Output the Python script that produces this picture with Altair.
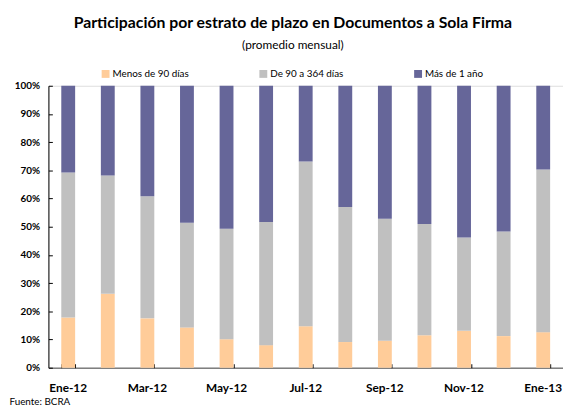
import altair as alt
import pandas as pd

months = ["Ene-12", "Feb-12", "Mar-12", "Abr-12", "May-12", "Jun-12", "Jul-12",
          "Ago-12", "Sep-12", "Oct-12", "Nov-12", "Dic-12", "Ene-13"]
series = ["Menos de 90 días", "De 90 a 364 días", "Más de 1 año"]
menos_90 = [17.8, 26.2, 17.5, 14.3, 10.1, 8.0, 14.7, 9.1, 9.6, 11.5, 13.1, 11.2, 12.6]
de_90_364 = [51.4, 42.0, 43.3, 37.1, 39.2, 43.7, 58.4, 47.9, 43.2, 39.5, 33.1, 37.1, 57.7]
mas_1_anio = [30.8, 31.8, 39.2, 48.6, 50.7, 48.3, 26.9, 43.0, 47.2, 49.0, 53.8, 51.7, 29.7]
label_months = ["Ene-12", "Mar-12", "May-12", "Jul-12", "Sep-12", "Nov-12", "Ene-13"]
y_ticks = [0, 0.1, 0.2, 0.3, 0.4, 0.5, 0.6, 0.7, 0.8, 0.9, 1.0]
colors = ["#FFCC99", "#C0C0C0", "#666699"]

rows = []
for i, m in enumerate(months):
    for k, (s, vals) in enumerate(zip(series, [menos_90, de_90_364, mas_1_anio])):
        rows.append({"mes": m, "estrato": s, "orden": k, "valor": vals[i]})
df = pd.DataFrame(rows)

FONT = "Lato"

x_labels = alt.X("mes:N", sort=months,
                 scale=alt.Scale(paddingInner=0.65, paddingOuter=0.325),
                 axis=alt.Axis(values=label_months, labelAngle=0, ticks=False,
                               domain=True, domainColor="#7f7f7f", domainWidth=1.5,
                               labelFont=FONT, labelFontWeight="bold", labelFontSize=12,
                               labelColor="#000000", labelPadding=15,
                               title="Fuente: BCRA", titleX=-40, titleY=37,
                               titleAlign="left", titleBaseline="alphabetic",
                               titleFont=FONT, titleFontWeight="normal", titleFontSize=10,
                               titleColor="#000000"))
y_labels = alt.Y("valor:Q", stack="normalize",
                 scale=alt.Scale(domain=[0, 1], nice=False),
                 axis=alt.Axis(values=y_ticks, format=".0%", ticks=False, grid=False,
                               domain=True, domainColor="#000000",
                               labelFont=FONT, labelFontWeight="bold", labelFontSize=10,
                               labelColor="#000000", labelPadding=9, title=None))

color = alt.Color("estrato:N", sort=series,
                  scale=alt.Scale(domain=series, range=colors),
                  legend=alt.Legend(title=None, orient="none", direction="horizontal",
                                    legendX=53, legendY=-17, symbolType="square",
                                    symbolSize=64, symbolStrokeWidth=0, padding=0,
                                    labelFont=FONT, labelFontSize=10, labelColor="#000000",
                                    labelOffset=2, columnPadding=70))

bars = alt.Chart(df).mark_bar().encode(
    x=x_labels,
    y=y_labels,
    color=color,
    order=alt.Order("orden:Q", sort="ascending"),
)

ticks_layer = alt.Chart(df).mark_bar(opacity=0).encode(
    x=alt.X("mes:N", sort=months,
            axis=alt.Axis(values=label_months, orient="bottom", offset=-4, tickSize=4,
                          tickColor="#000000", tickBand="extent", labels=False,
                          domain=False, title=None)),
    y=alt.Y("valor:Q", stack="normalize",
            axis=alt.Axis(values=y_ticks, orient="left", offset=-4, tickSize=4,
                          tickColor="#000000", labels=False, domain=False,
                          grid=False, title=None)),
    order=alt.Order("orden:Q", sort="ascending"),
)

chart = alt.layer(bars, ticks_layer).resolve_axis(
    x="independent", y="independent"
).properties(
    width=522, height=286,
    autosize=alt.AutoSizeParams(type="none"),
    padding={"left": 41, "top": 76, "right": 0, "bottom": 38},
    title=alt.TitleParams(
        text="Participación por estrato de plazo en Documentos a Sola Firma",
        subtitle="(promedio mensual)",
        anchor="middle", frame="group", dx=-13, offset=18,
        font=FONT, fontSize=16, fontWeight="bold", color="#000000",
        subtitleFont=FONT, subtitleFontSize=12, subtitleColor="#000000",
        subtitlePadding=10,
    ),
).configure_view(stroke=None).configure(background="#FFFFFF")

chart.save("out.html", embed_options={"renderer": "svg", "actions": False})
